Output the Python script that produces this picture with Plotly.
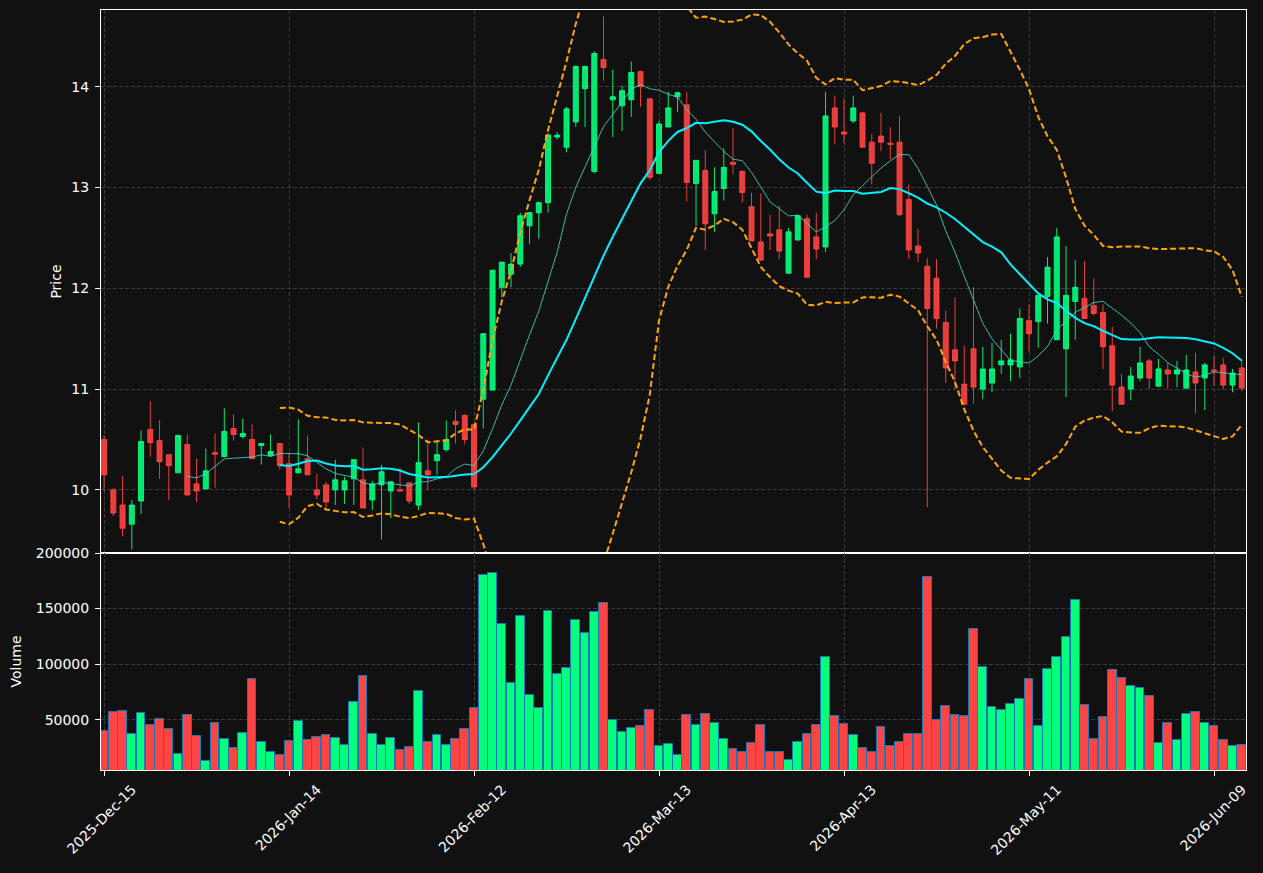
import pandas as pd
import plotly.graph_objects as go
from plotly.subplots import make_subplots

# ---------------- data ----------------
holidays = ["2025-12-25", "2026-01-01", "2026-01-19", "2026-02-16", "2026-04-03", "2026-05-25"]
dates = pd.bdate_range("2025-12-15", periods=124, freq="C", holidays=holidays)
date_labels = [d.strftime("%Y-%b-%d") for d in dates]

open_ = [10.50, 10.00, 9.85, 9.66, 9.89, 10.60, 10.49, 10.35, 10.17, 10.45,
         10.06, 10.01, 10.37, 10.33, 10.61, 10.53, 10.50, 10.44, 10.34, 10.46,
         10.26, 10.17, 10.31, 10.00, 10.05, 10.00, 10.00, 10.11, 10.10, 9.90,
         10.05, 9.99, 10.00, 10.07, 9.85, 10.19, 10.29, 10.40, 10.68, 10.74,
         10.65, 10.90, 10.99, 12.01, 12.14, 12.24, 12.62, 12.75, 12.85, 13.50,
         13.40, 13.65, 13.98, 13.16, 14.27, 13.87, 13.81, 13.87, 14.15, 13.88,
         13.14, 13.60, 13.90, 13.82, 13.04, 13.17, 12.74, 12.99, 13.25, 13.16,
         12.81, 12.46, 12.54, 12.58, 12.15, 12.48, 12.69, 12.51, 12.41, 13.79,
         13.55, 13.66, 13.74, 13.45, 13.51, 13.44, 13.45, 12.88, 12.42, 12.22,
         12.10, 11.66, 11.39, 11.05, 11.40, 11.00, 11.06, 11.24, 11.24, 11.22,
         11.68, 11.67, 11.92, 11.49, 11.40, 11.87, 11.90, 11.83, 11.76, 11.43,
         11.02, 11.00, 11.11, 11.28, 11.03, 11.19, 11.15, 11.01, 11.17, 11.11,
         11.19, 11.24, 11.04, 11.21]
high = [10.54, 10.02, 10.14, 9.90, 10.59, 10.88, 10.69, 10.35, 10.55, 10.55,
        10.31, 10.41, 10.56, 10.81, 10.75, 10.71, 10.65, 10.46, 10.55, 10.46,
        10.37, 10.70, 10.54, 10.16, 10.08, 10.30, 10.13, 10.30, 10.42, 10.09,
        10.25, 10.09, 10.22, 10.07, 10.67, 10.50, 10.48, 10.69, 10.79, 10.75,
        10.66, 11.55, 12.18, 12.26, 12.35, 12.75, 12.76, 12.86, 13.54, 13.55,
        13.80, 14.21, 14.21, 14.35, 14.70, 14.17, 14.01, 14.25, 14.16, 13.88,
        13.66, 13.95, 13.95, 13.95, 13.27, 13.37, 13.20, 13.39, 13.59, 13.17,
        12.95, 12.94, 12.73, 12.82, 12.60, 12.73, 12.73, 12.75, 13.95, 13.91,
        13.88, 13.91, 13.75, 13.53, 13.74, 13.60, 13.71, 13.03, 12.59, 12.30,
        12.29, 11.78, 11.91, 11.43, 12.01, 11.42, 11.46, 11.49, 11.55, 11.80,
        11.84, 11.93, 12.31, 12.60, 12.42, 12.28, 12.27, 12.10, 11.84, 11.62,
        11.15, 11.22, 11.42, 11.30, 11.30, 11.26, 11.28, 11.34, 11.36, 11.26,
        11.33, 11.31, 11.20, 11.28]
low = [9.99, 9.74, 9.54, 9.41, 9.76, 10.33, 10.11, 9.90, 10.17, 9.95,
       9.88, 10.01, 10.02, 10.33, 10.49, 10.51, 10.31, 10.25, 10.33, 10.20,
       9.82, 10.17, 10.15, 9.91, 9.81, 9.85, 9.86, 9.85, 9.82, 9.80,
       9.51, 9.72, 9.99, 9.86, 9.80, 10.00, 10.15, 10.38, 10.46, 10.45,
       10.00, 10.61, 10.99, 11.91, 12.01, 12.21, 12.44, 12.49, 12.75, 13.48,
       13.35, 13.60, 13.60, 13.14, 14.06, 13.50, 13.56, 13.70, 13.80, 13.07,
       13.14, 13.60, 13.75, 12.86, 12.62, 12.38, 12.56, 12.87, 13.13, 12.85,
       12.47, 12.27, 12.38, 12.29, 12.15, 12.47, 12.10, 12.29, 12.36, 13.43,
       13.44, 13.64, 13.40, 13.03, 13.36, 13.28, 12.72, 12.29, 12.26, 9.83,
       11.60, 11.06, 11.00, 10.85, 10.86, 10.90, 10.97, 11.15, 11.08, 11.11,
       11.37, 11.41, 11.65, 11.49, 10.92, 11.49, 11.70, 11.73, 11.20, 10.78,
       10.85, 10.89, 11.08, 11.00, 11.02, 11.00, 11.02, 11.00, 10.76, 10.79,
       11.03, 11.00, 10.97, 10.98]
close = [10.15, 9.77, 9.62, 9.85, 10.48, 10.47, 10.28, 10.24, 10.54, 9.95,
         9.99, 10.19, 10.355, 10.58, 10.55, 10.56, 10.31, 10.46, 10.38, 10.24,
         9.95, 10.21, 10.15, 9.95, 9.88, 10.10, 10.09, 10.30, 9.82, 10.06,
         10.18, 10.08, 9.99, 9.89, 10.27, 10.15, 10.35, 10.50, 10.65, 10.50,
         10.03, 11.55, 12.18, 12.26, 12.24, 12.72, 12.75, 12.85, 13.52, 13.52,
         13.78, 14.20, 14.20, 14.33, 14.19, 13.90, 13.96, 14.14, 14.00, 13.10,
         13.63, 13.79, 13.94, 13.05, 13.27, 12.64, 12.96, 13.20, 13.23, 12.95,
         12.47, 12.28, 12.52, 12.37, 12.56, 12.72, 12.11, 12.39, 13.71, 13.60,
         13.53, 13.79, 13.40, 13.24, 13.45, 13.43, 12.73, 12.38, 12.35, 11.80,
         11.70, 11.21, 11.28, 10.85, 11.02, 11.20, 11.20, 11.28, 11.29, 11.70,
         11.55, 11.93, 12.21, 12.51, 11.93, 12.01, 11.70, 11.75, 11.42, 11.04,
         10.85, 11.13, 11.26, 11.11, 11.20, 11.15, 11.19, 11.19, 11.06, 11.24,
         11.18, 11.04, 11.16, 11.01]
volume = [39600, 56800, 57700, 36900, 55900, 45000, 50400, 41400, 18900, 54100,
          35100, 13200, 46800, 32400, 24300, 37800, 86500, 29700, 20700, 18000,
          30600, 48600, 31500, 34200, 36000, 33300, 27000, 65800, 89200, 36900,
          27000, 33300, 22500, 25200, 75700, 29700, 36000, 27000, 32400, 41400,
          60400, 180200, 182000, 136000, 82900, 143200, 72100, 60400, 147700, 91000,
          96400, 139600, 127900, 146800, 155000, 49600, 38700, 42300, 44100, 58600,
          26100, 27900, 18000, 54100, 45000, 55000, 46800, 32400, 23400, 20700,
          28800, 45000, 20700, 20700, 13500, 29700, 36900, 45000, 106300, 53200,
          45900, 36000, 24300, 20700, 43200, 26100, 29700, 36900, 36900, 178400,
          49600, 62200, 54100, 53200, 131500, 97300, 61300, 58600, 64000, 68500,
          86500, 44100, 95500, 106300, 124300, 157700, 63100, 32400, 52300, 94600,
          87400, 80200, 78400, 71200, 28800, 46800, 31500, 55000, 56800, 46800,
          44100, 31500, 26100, 27000]

price_ticks = [10, 11, 12, 13, 14]
volume_ticks = [50000, 100000, 150000, 200000]

# ---------------- indicators ----------------
cs = pd.Series(close)
sma10 = cs.rolling(10).mean()
sma20 = cs.rolling(20).mean()
std20 = cs.rolling(20).std()
bb_up = sma20 + 2 * std20
bb_lo = sma20 - 2 * std20

# ---------------- styles ----------------
BG = "#111111"
GRID = "#3a3a3a"
UP_C = "rgba(0,255,127,0.9)"
DN_C = "rgba(255,68,68,0.9)"
UP_V = "#00ff7f"
DN_V = "#ff4444"
FONT = dict(family="DejaVu Sans", size=14, color="white")

fig = make_subplots(rows=2, cols=1, shared_xaxes=True, vertical_spacing=0)

fig.add_trace(go.Candlestick(
    x=date_labels, open=open_, high=high, low=low, close=close,
    increasing=dict(line=dict(color=UP_C, width=1), fillcolor=UP_C),
    decreasing=dict(line=dict(color=DN_C, width=1), fillcolor=DN_C),
    whiskerwidth=0, showlegend=False, hoverinfo="skip"), row=1, col=1)

fig.add_trace(go.Scatter(x=date_labels, y=sma10, mode="lines",
                         line=dict(color="rgba(64,224,208,0.8)", width=1),
                         showlegend=False, hoverinfo="skip"), row=1, col=1)
fig.add_trace(go.Scatter(x=date_labels, y=sma20, mode="lines",
                         line=dict(color="#00f0ff", width=2),
                         showlegend=False, hoverinfo="skip"), row=1, col=1)
for band in (bb_up, bb_lo):
    fig.add_trace(go.Scatter(x=date_labels, y=band, mode="lines",
                             line=dict(color="#ffa500", width=2, dash="6px,3px"),
                             showlegend=False, hoverinfo="skip"), row=1, col=1)

vol_colors = [UP_V if c >= o else DN_V for o, c in zip(open_, close)]
fig.add_trace(go.Bar(x=date_labels, y=volume, width=0.95,
                     marker=dict(color=vol_colors, line=dict(color="#1f77b4", width=1)),
                     showlegend=False, hoverinfo="skip"), row=2, col=1)

tick_dates = date_labels[::20]
xr = [-0.33, 123.46]
common_x = dict(type="category", range=xr, tickvals=tick_dates, showgrid=True,
                gridcolor=GRID, griddash="4px,2px", gridwidth=1, automargin=False,
                showline=True, linecolor="white", linewidth=1, mirror=True,
                zeroline=False, rangeslider=dict(visible=False))
common_y = dict(showgrid=True, gridcolor=GRID, griddash="4px,2px", automargin=False,
                showline=True, linecolor="white", mirror=True, zeroline=False,
                ticks="outside", ticklen=5, tickcolor="white", tickfont=FONT,
                ticklabelstandoff=3)
fig.update_layout(
    width=1263, height=873,
    paper_bgcolor=BG, plot_bgcolor=BG,
    margin=dict(l=101, r=17, t=10, b=103, autoexpand=False),
    font=FONT,
    bargap=0,
    boxgap=0.23,
    xaxis=dict(**common_x, showticklabels=False, ticks=""),
    xaxis2=dict(**common_x, showticklabels=True, ticks="outside", ticklen=5,
                tickcolor="white", tickangle=-45, ticklabelshift=28,
                tickfont=FONT),
    yaxis=dict(**common_y, domain=[0.2855, 1], range=[9.374, 14.761], tickvals=price_ticks,
               title=dict(text="Price", font=FONT, standoff=6)),
    yaxis2=dict(**common_y, domain=[0, 0.2855], range=[4775, 200000], tickvals=volume_ticks,
                tickformat="d",
                title=dict(text="Volume", font=FONT, standoff=10)),
)

fig.write_html("out.html")
